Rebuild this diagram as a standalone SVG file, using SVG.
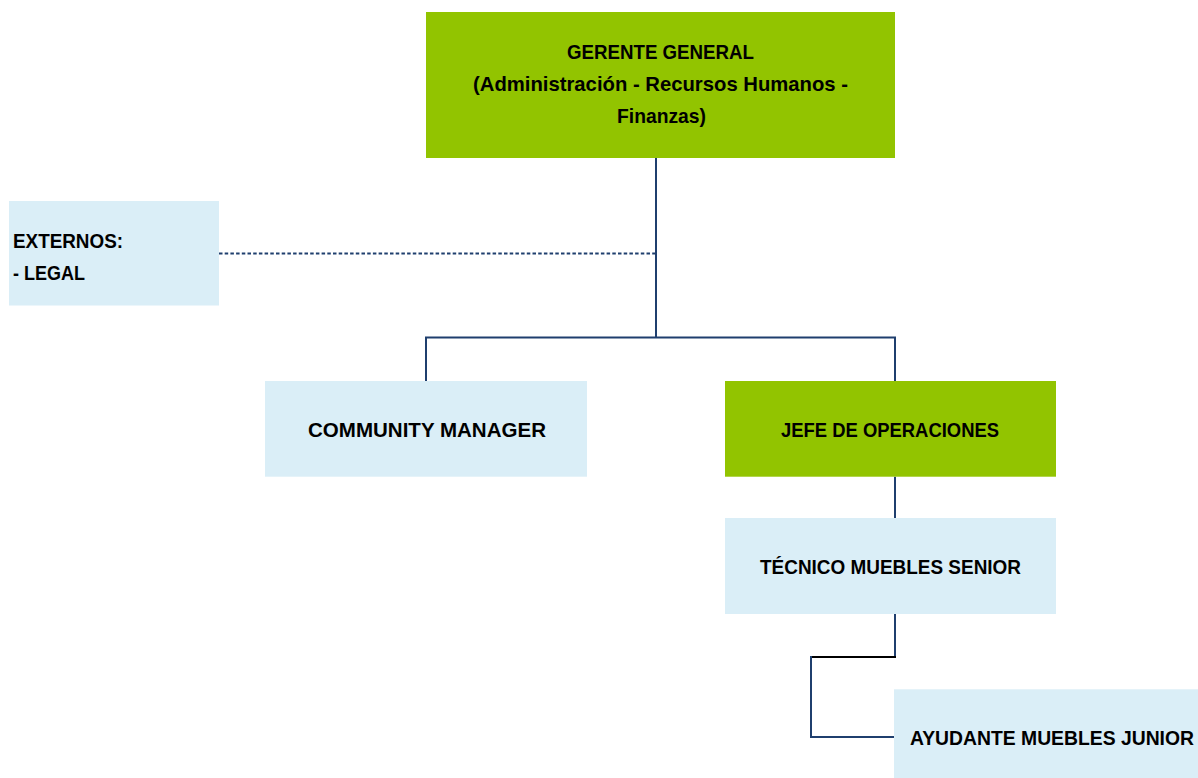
<svg xmlns="http://www.w3.org/2000/svg" width="1198" height="778" viewBox="0 0 1198 778">
<style>
.green{fill:#92C400}
.blue{fill:#DAEEF7}
.t{font-family:"Liberation Sans",Arial,sans-serif;font-weight:bold;font-size:20.5px;fill:#000}
.c{text-anchor:middle}
.ln{fill:none;stroke:#1F3F6E;stroke-width:2}
.blk{fill:none;stroke:#000;stroke-width:2}
.dot{fill:none;stroke:#1F3F6E;stroke-width:2;stroke-dasharray:3.5 2.2}
</style>
<rect width="1198" height="778" fill="#fff"/>
<g id="connectors">
<path class="ln" d="M656 158V337.5M426 381V337.5H895V381"/>
<path class="dot" d="M219 253.5H655"/>
<path class="ln" d="M895 476.7V518"/>
<path class="ln" d="M895 614V657"/>
<path class="blk" d="M811 657H896"/>
<path class="ln" d="M811 656V737H895"/>
</g>
<g id="gerente">
<rect class="green" x="426" y="12" width="469" height="146"/>
<text class="t c" x="660.5" y="59" textLength="187" lengthAdjust="spacingAndGlyphs">GERENTE GENERAL</text>
<text class="t c" x="660.5" y="91" textLength="375" lengthAdjust="spacingAndGlyphs">(Administración - Recursos Humanos -</text>
<text class="t c" x="661.5" y="123" textLength="89" lengthAdjust="spacingAndGlyphs">Finanzas)</text>
</g>
<g id="externos">
<rect class="blue" x="9" y="201" width="210" height="104.5"/>
<text class="t" x="13" y="248" textLength="110" lengthAdjust="spacingAndGlyphs">EXTERNOS:</text>
<text class="t" x="13" y="280" textLength="72" lengthAdjust="spacingAndGlyphs">- LEGAL</text>
</g>
<g id="community">
<rect class="blue" x="265" y="381" width="322" height="95.7"/>
<text class="t c" x="427" y="437" textLength="238" lengthAdjust="spacingAndGlyphs">COMMUNITY MANAGER</text>
</g>
<g id="jefe">
<rect class="green" x="725" y="381" width="331" height="95.7"/>
<text class="t c" x="890" y="437" textLength="218" lengthAdjust="spacingAndGlyphs">JEFE DE OPERACIONES</text>
</g>
<g id="tecnico">
<rect class="blue" x="725" y="518" width="331" height="96"/>
<text class="t c" x="890.5" y="574" textLength="261" lengthAdjust="spacingAndGlyphs">TÉCNICO MUEBLES SENIOR</text>
</g>
<g id="ayudante">
<rect class="blue" x="894" y="689.3" width="304" height="88.7"/>
<text class="t" x="910" y="745" textLength="284" lengthAdjust="spacingAndGlyphs">AYUDANTE MUEBLES JUNIOR</text>
</g>
</svg>
